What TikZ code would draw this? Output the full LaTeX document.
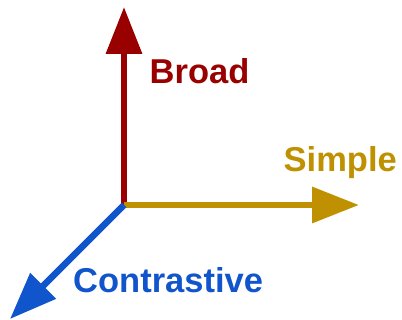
\documentclass[tikz,border=0pt]{standalone}
\usepackage{fontspec}
\setmainfont{Liberation Sans}
\usetikzlibrary{arrows.meta}
\definecolor{axred}{HTML}{990000}
\definecolor{axgold}{HTML}{BF9000}
\definecolor{axblue}{HTML}{1155CC}
\begin{document}
\begin{tikzpicture}[x=1pt,y=-1pt,
  axis/.style={line width=6.5pt,-{Triangle[length=47pt,width=35pt]}},
  lbl/.style={anchor=base west,inner sep=0pt,font=\fontsize{34.5pt}{40pt}\selectfont\bfseries}]
\useasboundingbox (0,0) rectangle (402,320);
\coordinate (O) at (124,205);
\coordinate (R) at (124,7);
\coordinate (G) at (359,205);
\coordinate (B) at (10,319);
\draw[axis,axred] ([yshift=-3.25pt]O) -- (R);
\draw[axis,axgold] ([xshift=-0.5pt]O) -- (G);
\draw[axis,axblue] (O) -- (B);
\node[lbl,text=axred] (broad) at (149.5,84) {Broad};
\node[lbl,text=axgold] (simple) at (283.5,172) {Simple};
\node[lbl,text=axblue] (contr) at (73,293) {Contrastive};
\end{tikzpicture}
\end{document}
